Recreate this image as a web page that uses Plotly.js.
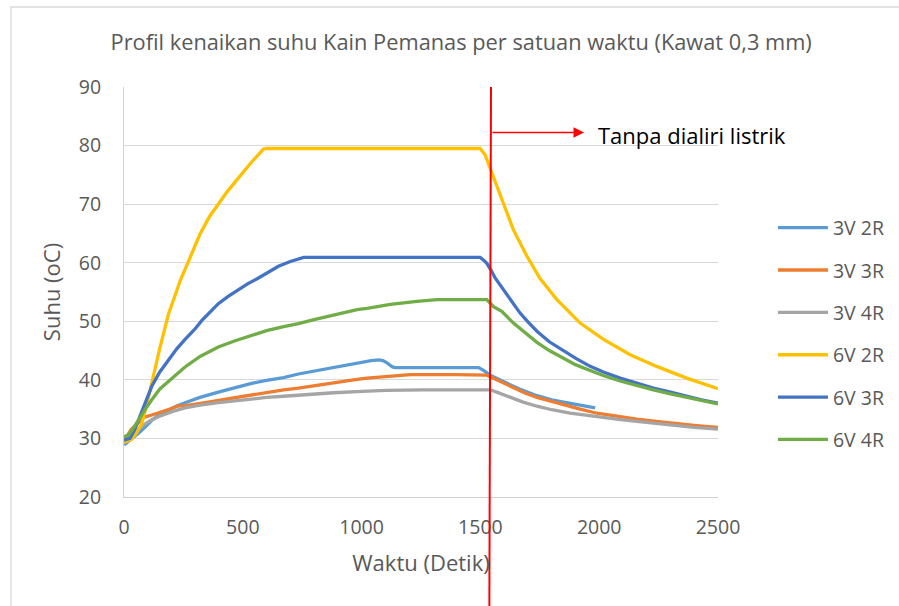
<!DOCTYPE html>
<html>
<head>
<meta charset="utf-8">
<script src="https://cdn.plot.ly/plotly-3.0.1.min.js"></script>
<style>
html,body{margin:0;padding:0;background:#fff;}
#chart{width:899px;height:606px;}
</style>
</head>
<body>
<div id="chart"></div>
<script>
// ---- Data (time in seconds, temperature in °C) ----
const seriesNames = ["3V 2R", "3V 3R", "3V 4R", "6V 2R", "6V 3R", "6V 4R"];

const t_3V2R = [0,30,61,90,117,150,187,220,257,320,397,462,537,600,672,734,800,882,981,1040,1072,1090,1107,1130,1142,1300,1492,1510,1541,1597,1667,1738,1800,1850,1920,1983];
const y_3V2R = [28.9,29.8,30.9,32.0,33.1,34.1,34.9,35.5,36.1,37.0,37.9,38.6,39.4,39.9,40.4,41.0,41.5,42.2,42.9,43.3,43.4,43.3,42.9,42.2,42.1,42.1,42.1,41.7,40.8,39.7,38.4,37.3,36.6,36.2,35.7,35.2];

const t_3V3R = [0,10,30,61,83,117,150,167,200,224,260,322,397,462,537,600,672,734,800,882,981,1023,1100,1191,1205,1400,1527,1569,1600,1639,1690,1738,1790,1850,1920,1990,2070,2158,2240,2326,2410,2500];
const y_3V3R = [29.6,30.2,31.5,32.7,33.6,34.0,34.4,34.6,35.1,35.5,35.6,36.0,36.5,36.9,37.3,37.8,38.3,38.6,39.0,39.6,40.1,40.3,40.5,40.8,40.9,40.9,40.8,40.0,39.4,38.6,37.7,37.0,36.4,35.8,35.0,34.3,33.8,33.3,32.9,32.5,32.2,31.9];

const t_3V4R = [0,30,61,90,117,150,187,220,257,320,397,462,537,600,672,734,800,882,981,1100,1261,1400,1541,1569,1625,1680,1738,1800,1878,1950,2018,2090,2158,2230,2298,2400,2500];
const y_3V4R = [29.4,30.5,31.6,32.5,33.2,33.8,34.4,34.8,35.2,35.7,36.1,36.4,36.7,37.0,37.2,37.4,37.6,37.8,38.0,38.2,38.3,38.3,38.3,37.9,37.0,36.2,35.5,34.9,34.3,33.9,33.5,33.2,32.9,32.6,32.3,31.9,31.6];

const t_6V2R = [0,30,50,75,100,125,150,187,209,240,271,320,360,397,430,468,500,537,565,587,600,800,1000,1200,1400,1499,1520,1548,1590,1639,1696,1751,1822,1920,2018,2130,2242,2368,2500];
const y_6V2R = [29.3,29.8,30.8,32.5,36.5,41.0,45.3,51.2,53.8,57.3,60.2,64.9,67.9,70.0,71.9,73.8,75.4,77.2,78.4,79.4,79.5,79.5,79.5,79.5,79.5,79.5,78.4,75.3,70.8,65.6,61.1,57.3,53.7,49.7,46.9,44.3,42.3,40.3,38.5];

const t_6V3R = [0,25,45,61,90,117,150,187,222,257,297,327,369,397,440,481,520,566,610,650,700,734,756,1000,1200,1499,1515,1527,1545,1562,1597,1630,1667,1700,1738,1790,1850,1900,1962,2020,2088,2160,2228,2300,2368,2430,2500];
const y_6V3R = [29.7,30.0,31.5,33.2,36.2,38.9,41.3,43.4,45.3,46.9,48.6,50.1,51.8,53.0,54.3,55.4,56.4,57.4,58.4,59.4,60.2,60.7,60.9,60.9,60.9,60.9,60.4,59.9,58.7,57.4,55.4,53.4,51.4,49.9,48.3,46.5,44.9,43.7,42.3,41.3,40.3,39.4,38.6,37.9,37.2,36.6,36.0];

const t_6V4R = [0,20,40,61,90,117,150,200,257,320,397,462,537,600,672,734,800,882,981,1023,1121,1233,1317,1400,1527,1555,1590,1639,1690,1738,1790,1850,1900,1962,2020,2088,2160,2228,2300,2368,2430,2500];
const y_6V4R = [30.3,30.6,31.8,33.2,35.0,36.6,38.4,40.2,42.2,44.0,45.6,46.6,47.6,48.4,49.1,49.6,50.3,51.1,52.0,52.2,52.9,53.4,53.7,53.7,53.7,52.5,51.7,49.7,48.0,46.4,45.0,43.7,42.6,41.6,40.7,39.8,39.0,38.3,37.6,37.0,36.4,35.9];

const xTickVals = [0, 500, 1000, 1500, 2000, 2500];
const yTickVals = [20, 30, 40, 50, 60, 70, 80, 90];

const titleText = "Profil kenaikan suhu Kain Pemanas per satuan waktu (Kawat 0,3 mm)";
const xTitle = "Waktu (Detik)";
const yTitle = "Suhu (oC)";
const noteText = "Tanpa dialiri listrik";

// ---- Styling ----
const colors = ["#5B9BD5", "#ED7D31", "#A5A5A5", "#FFC000", "#4472C4", "#70AD47"];
const xs = [t_3V2R, t_3V3R, t_3V4R, t_6V2R, t_6V3R, t_6V4R];
const ys = [y_3V2R, y_3V3R, y_3V4R, y_6V2R, y_6V3R, y_6V4R];
const FONT = '"Open Sans", "Noto Sans", sans-serif';
const grey = "#595959";

const traces = seriesNames.map((n, i) => ({
  type: "scatter",
  mode: "lines",
  name: n,
  x: xs[i],
  y: ys[i],
  legendgroup: n,
  line: {color: colors[i], width: 3.3}
}));

const layout = {
  width: 899,
  height: 606,
  margin: {l: 124, r: 181, t: 87, b: 109, autoexpand: false},
  paper_bgcolor: "#ffffff",
  plot_bgcolor: "#ffffff",
  font: {family: FONT, color: grey, size: 19},
  title: {
    text: titleText,
    font: {family: FONT, size: 21.8, color: grey},
    xref: "container", x: 0.513, xanchor: "center",
    yref: "container", y: 1 - 42/606, yanchor: "middle"
  },
  xaxis: {
    range: [0, 2500],
    tickvals: xTickVals,
    ticks: "",
    ticklabelstandoff: 13,
    tickfont: {family: FONT, size: 19.5, color: grey},
    showgrid: false,
    zeroline: false,
    showline: true,
    linecolor: "#d0d0d0",
    linewidth: 1,
    title: {text: xTitle, font: {family: FONT, size: 22, color: grey}, standoff: 16}
  },
  yaxis: {
    range: [20, 90],
    tickvals: yTickVals,
    ticks: "",
    ticklabelstandoff: 18,
    tickfont: {family: FONT, size: 19.5, color: grey},
    showgrid: true,
    gridcolor: "#d9d9d9",
    gridwidth: 1,
    zeroline: false,
    showline: true,
    linecolor: "#d0d0d0",
    linewidth: 1,
    title: {text: yTitle, font: {family: FONT, size: 22, color: grey}, standoff: 12}
  },
  showlegend: true,
  legend: {
    xref: "container", yref: "container",
    x: 0.8598, xanchor: "left",
    y: (606 - 208.5) / 606, yanchor: "top",
    font: {family: FONT, size: 19.5, color: grey},
    tracegroupgap: 14,
    itemwidth: 50,
    bgcolor: "rgba(0,0,0,0)"
  },
  shapes: [
    // outer chart border (left/top visible)
    {type: "rect", xref: "paper", yref: "paper",
     x0: (11 - 124) / 594, x1: 3, y0: -2, y1: (497 - 7) / 410,
     line: {color: "#d9d9d9", width: 1.3}, fillcolor: "rgba(0,0,0,0)", layer: "below"},
    // red vertical line
    {type: "line", xref: "paper", yref: "paper",
     x0: (491 - 124) / 594, x1: (489.3 - 124) / 594, y0: 1, y1: -0.3,
     line: {color: "#FF0000", width: 2}}
  ],
  annotations: [
    {xref: "paper", yref: "paper",
     x: (584 - 124) / 594, y: (497 - 132.5) / 410,
     ax: -93, ay: 0, text: "", showarrow: true,
     arrowhead: 2, arrowsize: 1.4, arrowwidth: 1.5, arrowcolor: "#FF0000"},
    {xref: "paper", yref: "paper",
     x: (596 - 124) / 594, y: (497 - 135) / 410,
     xanchor: "left", yanchor: "middle", showarrow: false,
     text: noteText, font: {family: FONT, size: 22, color: "#000000"}}
  ]
};

Plotly.newPlot("chart", traces, layout, {displayModeBar: false, staticPlot: true});
</script>
</body>
</html>
